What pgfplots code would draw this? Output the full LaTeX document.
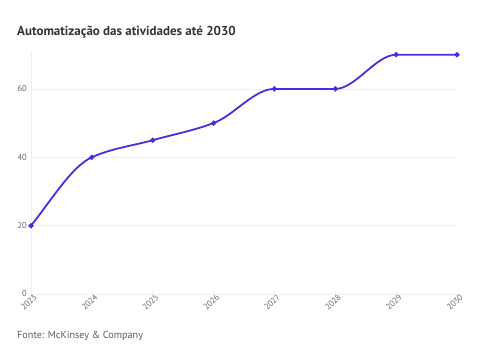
\documentclass[border=0pt]{standalone}
\usepackage{pgfplots}
\pgfplotsset{compat=1.18}
\usepackage{fontspec}
\setmainfont{PT Sans}
\definecolor{linec}{HTML}{4A2CE6}
\definecolor{gridc}{HTML}{EEEEEE}
\definecolor{tickc}{HTML}{666666}
\definecolor{titlec}{HTML}{333333}
\makeatletter
% monotone cubic (PCHIP-like) plot handler
\def\pgfplothandlermono{%
  \def\pgf@plotstreamstart{%
    \global\let\pgf@plotstreampoint=\mono@first
    \global\let\pgf@plotstreamspecial=\pgfutil@gobble
    \global\let\pgf@plotstreamend=\mono@finish
  }%
}
\def\mono@first#1{%
  \pgf@process{#1}%
  \xdef\mono@ax{\the\pgf@x}\xdef\mono@ay{\the\pgf@y}%
  \pgf@plot@first@action{\pgfqpoint{\mono@ax}{\mono@ay}}%
  \global\let\pgf@plotstreampoint=\mono@second
}
\def\mono@second#1{%
  \pgf@process{#1}%
  \xdef\mono@bx{\the\pgf@x}\xdef\mono@by{\the\pgf@y}%
  \pgfmathparse{1.1*(\mono@by-\mono@ay)/(\mono@bx-\mono@ax)}%
  \xdef\mono@ma{\pgfmathresult}%
  \global\let\pgf@plotstreampoint=\mono@next
}
\def\mono@next#1{%
  \pgf@process{#1}%
  \xdef\mono@cx{\the\pgf@x}\xdef\mono@cy{\the\pgf@y}%
  \pgfmathparse{(\mono@by-\mono@ay)/(\mono@bx-\mono@ax)}\xdef\mono@dA{\pgfmathresult}%
  \pgfmathparse{(\mono@cy-\mono@by)/(\mono@cx-\mono@bx)}\xdef\mono@dB{\pgfmathresult}%
  \pgfmathparse{(\mono@dA*\mono@dB<0.00001) ? 0 : 2*\mono@dA*\mono@dB/(\mono@dA+\mono@dB)}%
  \xdef\mono@mb{\pgfmathresult}%
  \mono@segment
  \global\let\mono@ax\mono@bx \global\let\mono@ay\mono@by
  \global\let\mono@bx\mono@cx \global\let\mono@by\mono@cy
  \global\let\mono@ma\mono@mb
}
\def\mono@segment{%
  \pgfmathparse{(\mono@bx-\mono@ax)/3}\edef\mono@h{\pgfmathresult pt}%
  \pgfmathparse{\mono@ax+\mono@h}\edef\mono@pax{\pgfmathresult pt}%
  \pgfmathparse{\mono@ay+\mono@ma*\mono@h}\edef\mono@pay{\pgfmathresult pt}%
  \pgfmathparse{\mono@bx-\mono@h}\edef\mono@pbx{\pgfmathresult pt}%
  \pgfmathparse{\mono@by-\mono@mb*\mono@h}\edef\mono@pby{\pgfmathresult pt}%
  \pgfpathcurveto{\pgfqpoint{\mono@pax}{\mono@pay}}{\pgfqpoint{\mono@pbx}{\mono@pby}}{\pgfqpoint{\mono@bx}{\mono@by}}%
}
\def\mono@finish{%
  \ifx\pgf@plotstreampoint\mono@next
    \pgfmathparse{(\mono@by-\mono@ay)/(\mono@bx-\mono@ax)}\xdef\mono@mb{\pgfmathresult}%
    \mono@segment
  \fi
}
\tikzset{monotone/.code={\let\tikz@plot@handler=\pgfplothandlermono}}
\makeatother
\begin{document}
\begin{tikzpicture}[x=1pt,y=1pt]
\path[use as bounding box] (0,0) rectangle (499,355);
\node[anchor=base west,font=\bfseries\fontsize{13}{16}\selectfont,text=titlec,inner sep=0pt] at (17,319) {Automatização das atividades até 2030};
\node[anchor=base west,font=\fontsize{10.2}{12}\selectfont,text=tickc!90!black,inner sep=0pt] at (17,16) {Fonte: McKinsey \& Company};
\begin{axis}[
  at={(31pt,61pt)}, anchor=origin,
  scale only axis, width=426pt, height=242pt,
  xmin=2023, xmax=2030, ymin=0, ymax=70.8,
  axis line style={draw=none},
  xtick={2023,...,2030},
  xticklabels={2023,2024,2025,2026,2027,2028,2029,2030},
  ytick={0,20,40,60},
  xticklabel style={rotate=45,anchor=north east,font=\fontsize{8.5}{9}\selectfont,text=tickc,inner sep=1pt,xshift=3pt},
  yticklabel style={font=\fontsize{8.5}{9}\selectfont,text=tickc,inner sep=1pt,xshift=-3pt},
  /pgf/number format/assume math mode=true,
  ymajorgrids, grid style={gridc, line width=0.8pt},
  major tick length=3pt,
  tick style={draw=gridc, line width=0.6pt},
  xtick pos=bottom, ytick style={draw=none},
  xtick align=inside,
  clip=false,
]
\draw[gridc, line width=0.8pt] (axis cs:2023,0) -- (axis cs:2023,70.8);
\draw[gridc, line width=0.8pt] (axis cs:2023,0) -- (axis cs:2030,0);
\addplot[linec, line width=1.8pt, monotone, mark=*, mark size=1.6pt, mark options={fill=linec}] coordinates {
(2023,20) (2024,40) (2025,45) (2026,50) (2027,60) (2028,60) (2029,70) (2030,70)
};
\end{axis}
\end{tikzpicture}
\end{document}
